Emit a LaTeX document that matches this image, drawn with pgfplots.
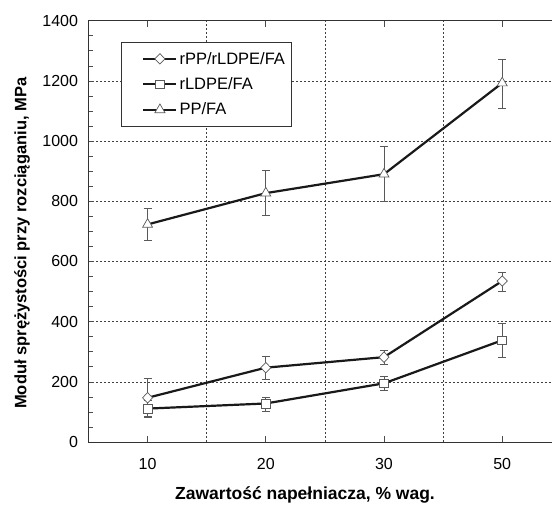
\documentclass[border=0pt]{standalone}
\usepackage{fontspec}
\setmainfont{Liberation Sans}
\usepackage{pgfplots}
\pgfplotsset{compat=1.18}

\begin{document}
\begin{tikzpicture}
  % the reference is cut off just before the right edge of the axis box
  \useasboundingbox (-88.5pt,-62pt) rectangle (463.5pt,442pt);
  \begin{axis}[
    at={(0pt,0pt)}, anchor=south west,
    scale only axis,
    width=472.8pt, height=421.3pt,
    xmin=0, xmax=4, ymin=0, ymax=1400,
    xtick={0.5,1.5,2.5,3.5},
    xticklabels={10,20,30,50},
    extra x ticks={1,2,3},
    extra x tick labels={},
    extra x tick style={grid=major, major tick length=0pt},
    ytick={0,200,...,1400},
    minor y tick num=3,
    ymajorgrids,
    grid style={black!75, line width=0.6pt, dash pattern=on 2pt off 2pt},
    tick align=inside,
    major tick length=6pt,
    minor tick length=4.5pt,
    tick style={black!70, line width=0.6pt},
    axis line style={black!80, line width=0.9pt},
    /pgf/number format/assume math mode=true,
    /pgf/number format/1000 sep={},
    tick label style={font=\fontsize{16}{18}\selectfont},
    xticklabel style={yshift=-12.5pt},
    yticklabel style={xshift=-7pt},
    xlabel={\bfseries Zawartość napełniacza, \% wag.},
    ylabel={\bfseries Moduł sprężystości przy rozciąganiu, MPa},
    xlabel style={font=\fontsize{17.5}{20}\selectfont,
      at={(axis description cs:0.458,0)}, anchor=base, yshift=-57pt},
    ylabel style={font=\fontsize{16.5}{19}\selectfont,
      at={(axis description cs:-0.1407,0.4717)}, anchor=center},
    legend style={at={(0.0687,0.950)}, anchor=north west, draw=black!80,
      line width=0.7pt, font=\fontsize{16.5}{19}\selectfont,
      inner xsep=4pt, inner ysep=8pt, row sep=8pt},
    legend cell align=left,
    legend image code/.code={
      \path (0pt,0pt);
      \draw[#1] (17pt,0pt) -- (50pt,0pt);
      \draw[#1, only marks] plot coordinates {(33.5pt,0pt)};
    },
    error bars/error bar style={line width=0.7pt, black!65},
    error bars/error mark options={rotate=90, mark size=4pt, line width=0.7pt, black!65},
  ]
  % rPP/rLDPE/FA
  \addplot[black!90, line width=2.2pt, mark=diamond*, mark size=5.2pt,
      mark options={fill=white, draw=black!65, line width=0.7pt, solid, xscale=1.3},
      error bars/.cd, y dir=both, y explicit]
    coordinates {
      (0.5,147) += (0,65) -= (0,65)
      (1.5,247) += (0,39) -= (0,40)
      (2.5,282) += (0,23) -= (0,24)
      (3.5,535) += (0,30) -= (0,34)
    };
  \addlegendentry{rPP/rLDPE/FA}
  % rLDPE/FA
  \addplot[black!90, line width=2.2pt, mark=square*, mark size=4.4pt,
      mark options={fill=white, draw=black!65, line width=0.7pt, solid},
      error bars/.cd, y dir=both, y explicit]
    coordinates {
      (0.5,111) += (0,26) -= (0,26)
      (1.5,128) += (0,22) -= (0,25)
      (2.5,195) += (0,22) -= (0,22)
      (3.5,338) += (0,57) -= (0,58)
    };
  \addlegendentry{rLDPE/FA}
  % PP/FA
  \addplot[black!90, line width=2.2pt, mark=triangle*, mark size=5.8pt,
      mark options={fill=white, draw=black!65, line width=0.7pt, solid},
      error bars/.cd, y dir=both, y explicit]
    coordinates {
      (0.5,723) += (0,54) -= (0,53)
      (1.5,827) += (0,75) -= (0,74)
      (2.5,890) += (0,93) -= (0,90)
      (3.5,1193) += (0,80) -= (0,83)
    };
  \addlegendentry{PP/FA}
  \end{axis}
\end{tikzpicture}
\end{document}
